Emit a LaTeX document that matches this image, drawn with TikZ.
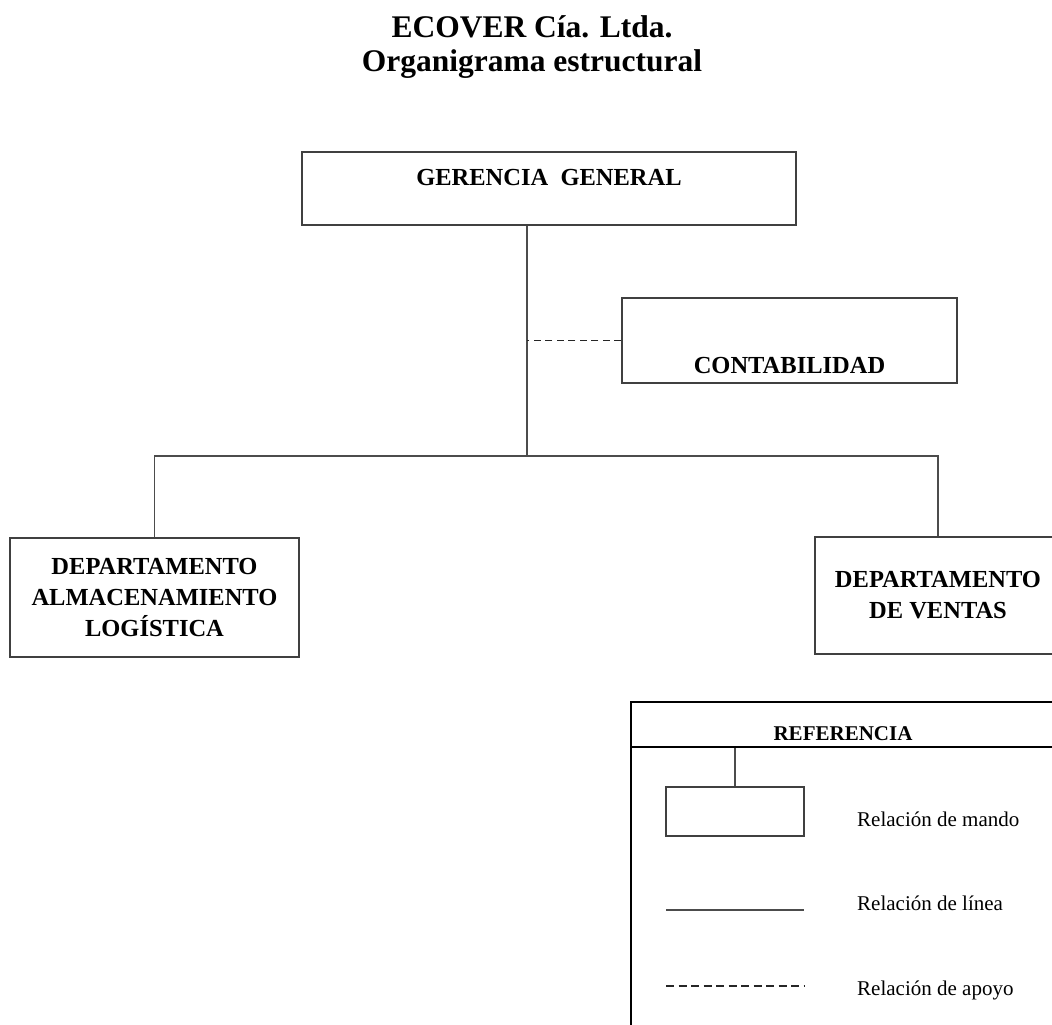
\documentclass[tikz,border=0pt]{standalone}
\usepackage{fontspec}
\setmainfont{Liberation Serif}
\begin{document}
\begin{tikzpicture}[x=1pt,y=-1pt,
  box/.style={draw=black!75, line width=1.2pt, rectangle, inner sep=0pt,
    font=\fontsize{24.5}{31}\selectfont\bfseries},
  multibox/.style={box, align=center},
  link/.style={draw=black!70, line width=1.2pt},
  support/.style={draw=black!85, line width=1.3pt, dash pattern=on 7pt off 4.5pt},
  legendframe/.style={draw=black, line width=2pt},
  legendtext/.style={anchor=base west, inner sep=0pt, font=\fontsize{21}{25}\selectfont},
  legendtitle/.style={anchor=base, inner sep=0pt, font=\fontsize{21}{25}\selectfont\bfseries},
  titletext/.style={align=center, inner sep=0pt, font=\fontsize{31.5}{35}\selectfont\bfseries}
]
\useasboundingbox (0,0) rectangle (1052,1025);
\clip (0,0) rectangle (1052,1025);

% title (base anchor sits on the last line)
\node[titletext, anchor=base] (title) at (532,72) {ECOVER Cía. Ltda.\\Organigrama estructural};

% organisation boxes
\node[box, minimum width=494pt, minimum height=73pt, text height=33pt, text depth=40pt]
  (gg) at (549,188.5) {GERENCIA\ \ GENERAL};
\node[box, minimum width=335pt, minimum height=85pt, text height=75pt, text depth=10pt]
  (cont) at (789.5,340.5) {CONTABILIDAD};
\node[multibox, minimum width=289pt, minimum height=119pt]
  (alm) at (154.5,597.5) {DEPARTAMENTO\\ALMACENAMIENTO\\LOGÍSTICA};
\node[multibox, minimum width=246pt, minimum height=117pt]
  (ven) at (938,595.5) {DEPARTAMENTO\\DE VENTAS};

% connectors
\coordinate (spine) at (527,456);
\draw[link] (gg.south -| spine) -- (spine);
\draw[link] (alm.north) |- (spine) -| (ven.north);
\draw[support] (cont.west) -- (cont.west -| spine);

% legend frame
\coordinate (lgtl) at (631,702);
\coordinate (lgtr) at (1060,702);
\coordinate (lgbl) at (631,1030);
\coordinate (lgsl) at (631,747);
\coordinate (lgsr) at (1060,747);
\draw[legendframe] (lgtr) -- (lgtl) -- (lgbl);
\draw[legendframe] (lgsl) -- (lgsr);
\node[legendtitle] (reftitle) at (843,740) {REFERENCIA};

% legend entries
\node[draw=black!75, line width=1.2pt, minimum width=138pt, minimum height=49pt, inner sep=0pt]
  (lgbox) at (735,811.5) {};
\draw[link] (lgbox.north) -- ++(0,-38);
\coordinate (solidA) at (666,910);
\coordinate (solidB) at (804,910);
\draw[link] (solidA) -- (solidB);
\coordinate (dashA) at (666,986);
\coordinate (dashB) at (805,986);
\draw[support, dash pattern=on 8pt off 4.5pt] (dashA) -- (dashB);

\node[legendtext] (tmando) at (857,826) {Relación de mando};
\node[legendtext] (tlinea) at (857,910) {Relación de línea};
\node[legendtext] (tapoyo) at (857,995) {Relación de apoyo};
\end{tikzpicture}
\end{document}
